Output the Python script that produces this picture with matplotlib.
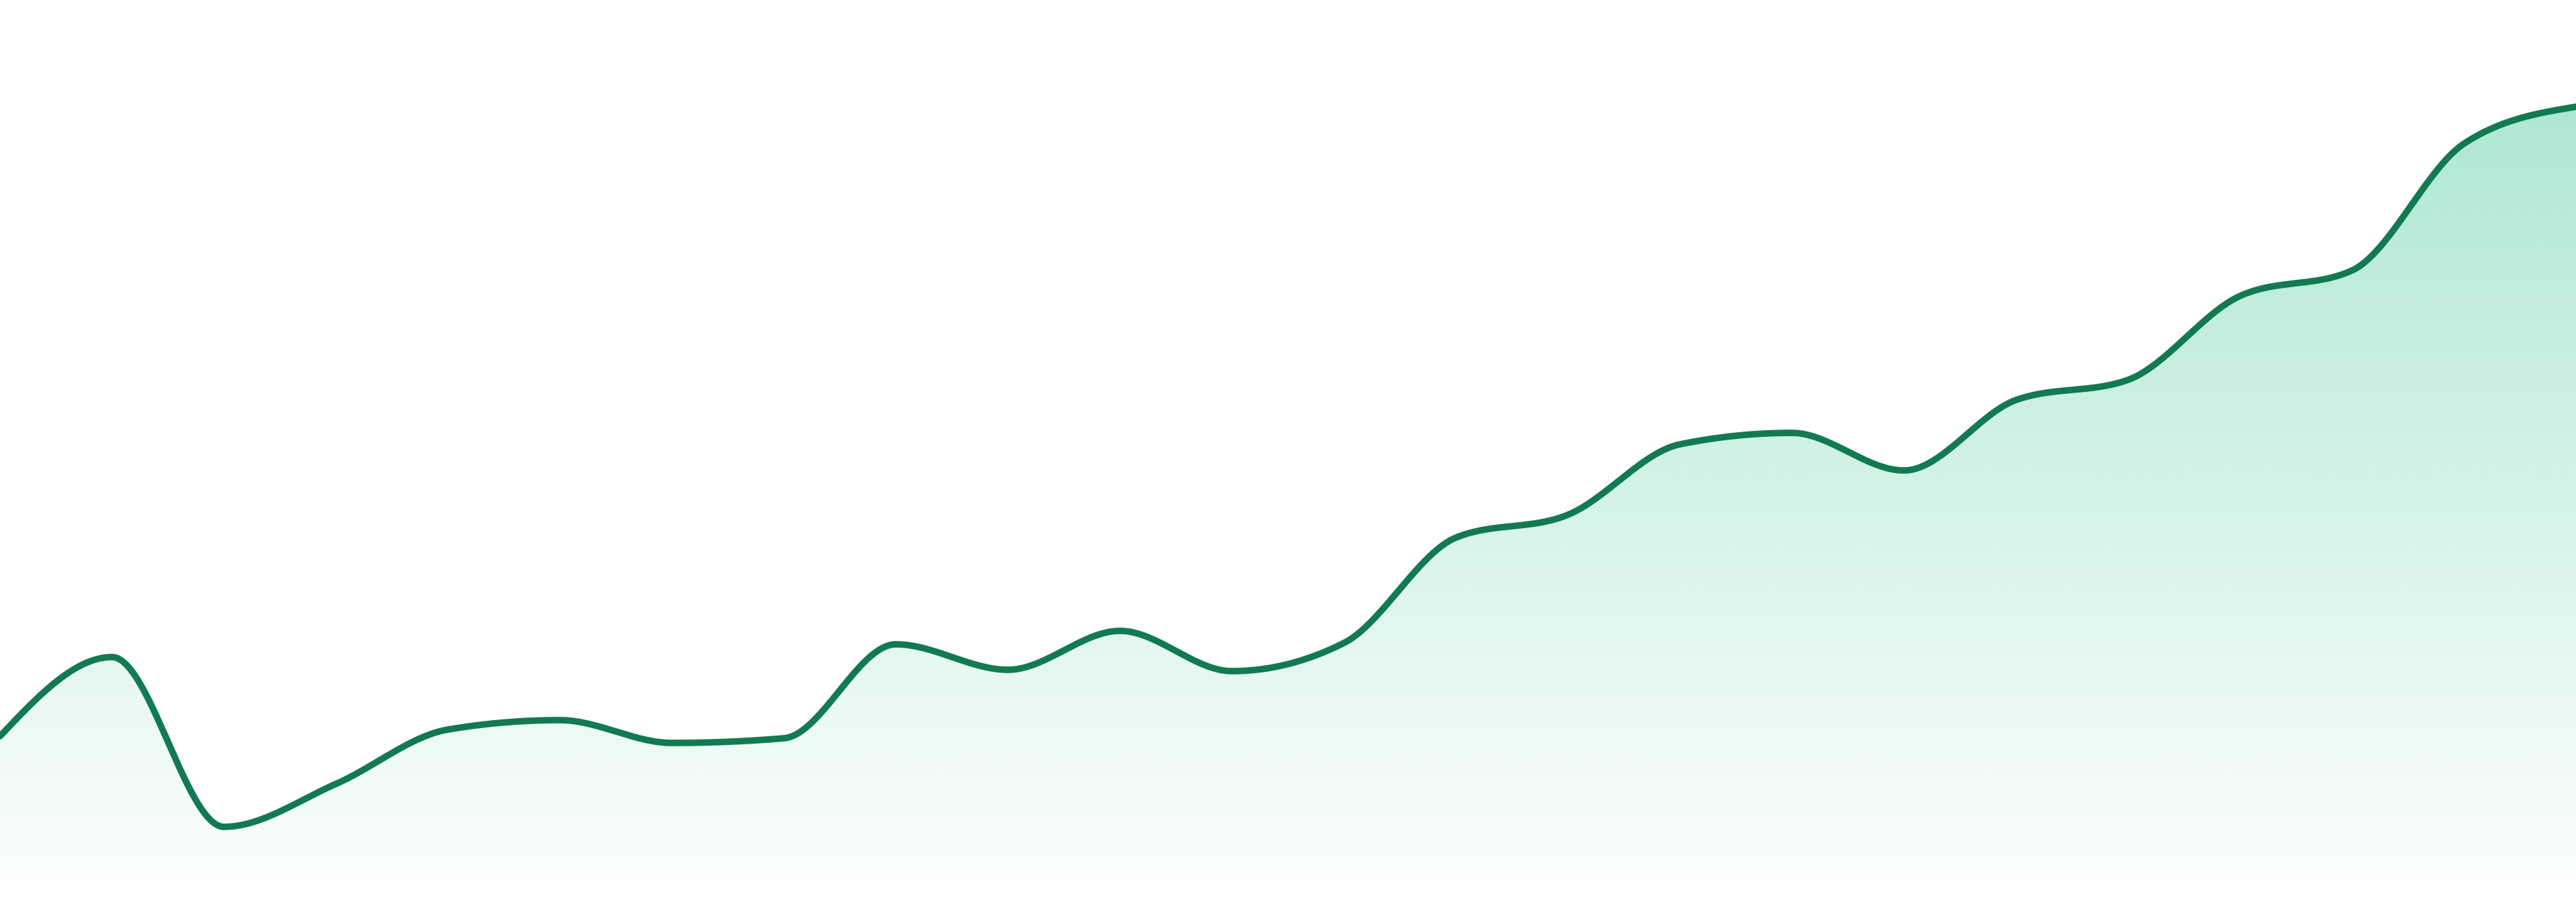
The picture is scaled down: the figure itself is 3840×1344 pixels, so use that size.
import numpy as np
import matplotlib
matplotlib.use("Agg")
import matplotlib.pyplot as plt
from matplotlib.colors import to_rgb

# === DATA (one value per step) ===
steps = list(range(24))
values = [213, 331, 78, 142, 223, 237, 203, 210, 350, 312, 370, 310,
          352, 509, 543, 648, 665, 609, 714, 744, 869, 907, 1096, 1151]

line_color = "#127a52"
fill_color = "#10b981"


# monotone cubic (same idea as d3 curveMonotoneX)
def monotone_curve(x, y, per_seg=60):
    x = np.asarray(x, float)
    y = np.asarray(y, float)
    h = np.diff(x)
    s = np.diff(y) / h
    n = len(x)
    m = np.zeros(n)
    for i in range(1, n - 1):
        p = (s[i - 1] * h[i] + s[i] * h[i - 1]) / (h[i - 1] + h[i])
        m[i] = (np.sign(s[i - 1]) + np.sign(s[i])) * min(abs(s[i - 1]), abs(s[i]), 0.5 * abs(p))
    m[0] = (3 * s[0] - m[1]) / 2
    m[-1] = (3 * s[-1] - m[-2]) / 2

    xs, ys = [], []
    for i in range(n - 1):
        t = np.linspace(0, 1, per_seg, endpoint=(i == n - 2))
        h00 = 2 * t**3 - 3 * t**2 + 1
        h10 = t**3 - 2 * t**2 + t
        h01 = -2 * t**3 + 3 * t**2
        h11 = t**3 - t**2
        xs.append(x[i] + t * h[i])
        ys.append(h00 * y[i] + h10 * h[i] * m[i] + h01 * y[i + 1] + h11 * h[i] * m[i + 1])
    return np.concatenate(xs), np.concatenate(ys)


cx, cy = monotone_curve(steps, values)

fig = plt.figure(figsize=(38.4, 13.44), dpi=100, facecolor="white")
ax = fig.add_axes([0, 0, 1, 1])
ax.set_xlim(steps[0], steps[-1])
ax.set_ylim(-34, 1310)
ax.axis("off")

# gradient fill under the line
top = max(values)
grad = np.zeros((256, 2, 4))
grad[:, :, :3] = to_rgb(fill_color)
grad[:, :, 3] = np.linspace(0.34, 0.02, 256)[:, None]
img = ax.imshow(grad, extent=[steps[0], steps[-1], 0, top], origin="upper",
                aspect="auto", interpolation="bilinear", zorder=1)
poly = ax.fill_between(cx, 0, cy, color="none", lw=0)
clip = poly.get_paths()[0]
img.set_clip_path(clip, transform=ax.transData)

ax.plot(cx, cy, color=line_color, lw=7, solid_capstyle="round", zorder=3)

fig.savefig("out.png", dpi=100, facecolor="white")
